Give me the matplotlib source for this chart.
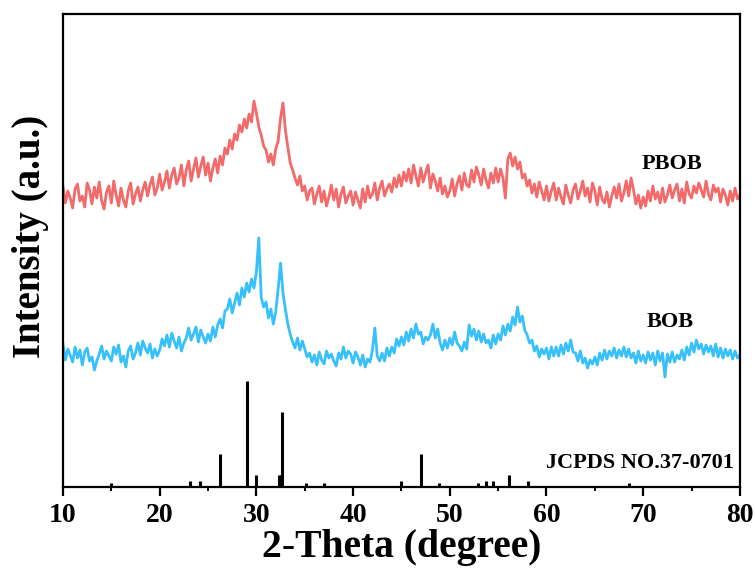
"""
XRD patterns of PBOB and BOB with the JCPDS 37-0701 reference sticks.
"""
import matplotlib
matplotlib.use("Agg")
import matplotlib.pyplot as plt
import numpy as np

# ── data (intensity in arbitrary units) ──────────────────────────────────────
TWO_THETA_START = 10.0
TWO_THETA_STEP = 0.25

pbob = [
    301, 284, 296, 289,  279, 298, 303, 286,  291, 280, 304, 297,  283, 300, 289, 305,
    286, 278, 295, 301,  284, 306, 292, 281,  299, 287, 280, 296,  304, 283, 293, 300,
    286, 297, 305, 291,  302, 310, 292, 299,  313, 297, 305, 316,  299, 312, 319, 303,
    309, 322, 301, 317,  326, 306, 318, 329,  310, 321, 330, 312,  324, 306, 319, 328,
    314, 331, 322, 339,  333, 347, 338, 353,  347, 362, 355, 368,  359, 373, 365, 386,
    374, 360, 352, 341,  337, 325, 333, 322,  338, 346, 369, 384,  357, 340, 324, 317,
    309, 302, 311, 296,  301, 287, 296, 299,  283, 293, 301, 285,  296, 281, 290, 302,
    287, 298, 280, 293,  300, 284, 291, 296,  282, 295, 287, 279,  298, 285, 301, 289,
    293, 304, 287, 299,  306, 291, 298, 303,  295, 309, 300, 312,  301, 315, 306, 318,
    304, 322, 311, 301,  319, 305, 314, 322,  299, 313, 306, 296,  309, 293, 301, 290,
    296, 308, 291, 303,  311, 297, 314, 302,  300, 317, 305, 320,  312, 302, 318, 307,
    299, 314, 304, 319,  305, 318, 309, 289,  328, 334, 321, 330,  318, 325, 309, 313,
    301, 307, 294, 303,  290, 305, 296, 287,  301, 286, 296, 304,  287, 299, 290, 283,
    302, 292, 284, 297,  303, 288, 296, 306,  291, 299, 285, 304,  296, 282, 300, 288,
    284, 295, 280, 291,  300, 289, 303, 286,  294, 306, 291, 309,  297, 283, 292, 279,
    290, 281, 296, 286,  301, 288, 295, 284,  299, 285, 292, 302,  289, 297, 303, 286,
    298, 284, 305, 293,  289, 301, 294, 304,  297, 290, 306, 293,  287, 302, 295, 299,
    285, 298, 292, 282,  296, 286, 299, 288,  292,
]

bob = [
    143, 127, 138, 132,  125, 140, 129, 137,  122, 135, 139, 126,  130, 117, 126, 133,
    141, 128, 136, 131,  126, 140, 133, 142,  125, 131, 120, 136,  141, 128, 134, 144,
    132, 146, 139, 134,  143, 129, 138, 131,  137, 148, 141, 152,  140, 154, 146, 139,
    150, 136, 144, 149,  159, 147, 153, 160,  145, 157, 150, 144,  153, 146, 160, 150,
    162, 168, 159, 176,  178, 188, 174, 184,  194, 182, 199, 190,  204, 195, 208, 199,
    215, 249, 190, 180,  185, 169, 178, 163,  175, 198, 224, 194,  178, 163, 153, 145,
    139, 149, 137, 146,  138, 130, 134, 125,  132, 122, 135, 127,  123, 136, 129, 133,
    126, 121, 134, 128,  140, 129, 136, 133,  124, 135, 130, 122,  132, 120, 128, 125,
    137, 159, 131, 126,  134, 126, 139, 131,  140, 134, 148, 141,  150, 142, 155, 146,
    158, 149, 163, 153,  155, 143, 150, 147,  152, 163, 149, 158,  144, 137, 147, 139,
    149, 142, 155, 144,  141, 136, 145, 138,  162, 151, 158, 147,  156, 145, 153, 144,
    147, 139, 152, 143,  153, 147, 161, 152,  163, 156, 170, 162,  180, 165, 171, 157,
    152, 144, 147, 136,  141, 130, 138, 133,  139, 128, 140, 131,  140, 131, 142, 133,
    144, 136, 147, 135,  134, 126, 136, 124,  129, 119, 127, 123,  130, 122, 134, 127,
    137, 128, 136, 131,  139, 129, 137, 131,  140, 130, 138, 129,  134, 124, 136, 126,
    132, 124, 135, 127,  134, 122, 136, 126,  134, 110, 133, 125,  135, 125, 132, 128,
    137, 127, 140, 132,  144, 135, 147, 138,  143, 133, 142, 135,  141, 131, 143, 130,
    139, 129, 138, 131,  137, 128, 136, 129,  132,
]

jcpds_pos = [15.0, 23.1, 24.2, 26.2, 29.0, 30.0, 32.3, 32.5, 32.7, 35.1,
             37.0, 45.0, 47.0, 48.9, 52.9, 53.7, 54.5, 56.1, 58.1, 68.5]
jcpds_int = [4, 6, 6, 33, 106, 12, 12, 12, 75, 4,
             4, 6, 33, 4, 4, 6, 6, 12, 6, 4]

labels = ["PBOB", "BOB", "JCPDS NO.37-0701"]

RED = "#f26a6a"
BLUE = "#38c0fc"

plt.rcParams.update({
    "font.family": ["Liberation Serif", "DejaVu Serif"],
    "font.weight": "bold",
    "axes.linewidth": 1.6,
})


def main() -> None:
    x_pbob = TWO_THETA_START + TWO_THETA_STEP * np.arange(len(pbob))
    x_bob = TWO_THETA_START + TWO_THETA_STEP * np.arange(len(bob))

    fig = plt.figure(figsize=(7.55, 5.70), dpi=100)
    ax = fig.add_axes([0.0834, 0.1456, 0.8966, 0.8298])

    ax.plot(x_pbob, pbob, color=RED, linewidth=2.0)
    ax.plot(x_bob, bob, color=BLUE, linewidth=2.0)
    ax.vlines(jcpds_pos, 0, jcpds_int, color="black", linewidth=2.2)

    ax.text(73.0, 323, labels[0], fontsize=16, fontweight="bold", ha="center", va="center")
    ax.text(72.8, 165, labels[1], fontsize=16, fontweight="bold", ha="center", va="center")
    ax.text(79.4, 24, labels[2], fontsize=16, fontweight="bold", ha="right", va="center")

    ax.set_xlim(10, 80)
    ax.set_ylim(0, 473)
    ax.set_xticks(np.arange(10, 81, 10))
    ax.set_xticks(np.arange(15, 80, 10), minor=True)
    ax.set_yticks([])
    ax.tick_params(axis="x", which="major", direction="out", length=6.5, width=1.6,
                   labelsize=20, pad=5)
    ax.tick_params(axis="x", which="minor", direction="out", length=3.2, width=1.4)
    for lab in ax.get_xticklabels():
        lab.set_fontweight("bold")

    ax.set_xlabel("2-Theta (degree)", fontsize=28.5, fontweight="bold", labelpad=1)
    ax.set_ylabel("Intensity (a.u.)", fontsize=28, fontweight="bold")
    ax.yaxis.set_label_coords(-0.02, 0.53)

    fig.savefig("out.png", dpi=100)
    plt.close(fig)


if __name__ == "__main__":
    main()
